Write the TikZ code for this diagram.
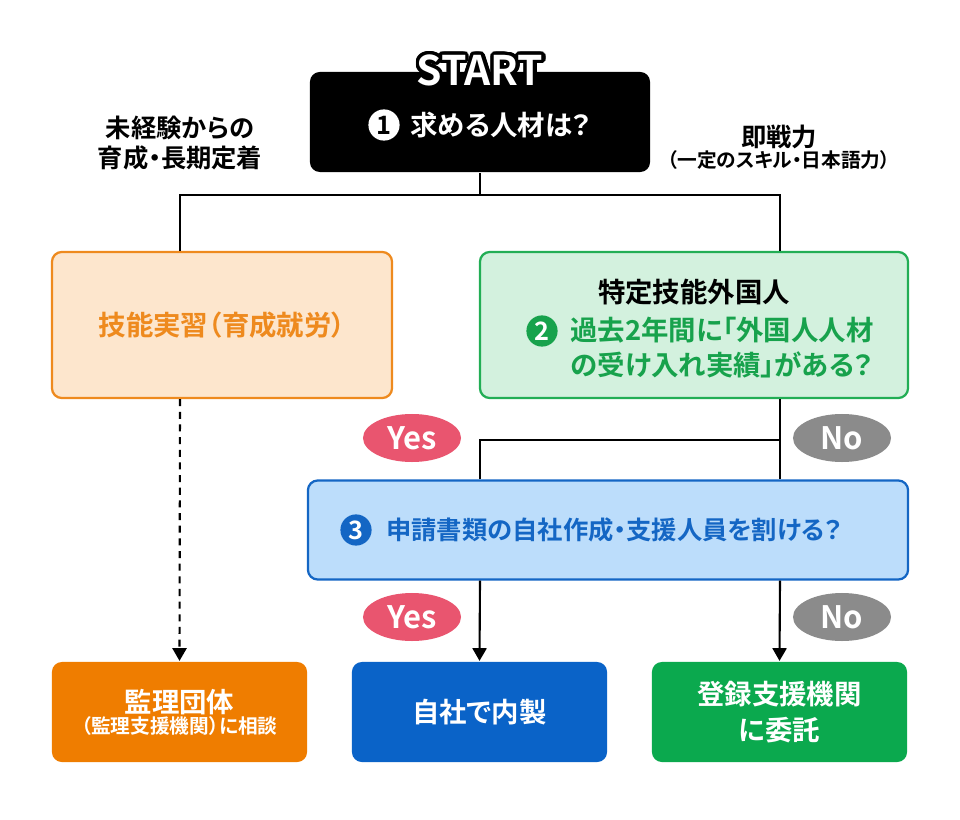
\documentclass[tikz,border=0pt]{standalone}
\usepackage{fontspec}
\setmainfont{Noto Sans CJK JP}[BoldFont={Noto Sans CJK JP Bold}, RawFeature={+palt}]
\usepackage{contour}
\usetikzlibrary{shapes.geometric, arrows.meta, positioning}

\definecolor{trainline}{HTML}{EE8A1E}
\definecolor{trainfill}{HTML}{FDE6CD}
\definecolor{sswline}{HTML}{22AE55}
\definecolor{sswfill}{HTML}{D3F1DE}
\definecolor{sswtext}{HTML}{17A24C}
\definecolor{selfline}{HTML}{1466C4}
\definecolor{selffill}{HTML}{BCDDFB}
\definecolor{resorange}{HTML}{EF7D00}
\definecolor{resblue}{HTML}{0A63C8}
\definecolor{resgreen}{HTML}{0BA94E}
\definecolor{yespink}{HTML}{E9556F}
\definecolor{nogray}{HTML}{8B8B8B}

\newcommand{\fmain}{\fontsize{19.5}{25}\selectfont\bfseries}
\newcommand{\flab}{\fontsize{18}{21}\selectfont\bfseries}
\newcommand{\fsmall}{\fontsize{14}{21}\selectfont\bfseries}
\newcommand{\fself}{\fontsize{18}{21}\selectfont\bfseries}
\newcommand{\ftag}{\fontsize{22}{22}\selectfont\bfseries}
\newcommand{\fstart}{\fontsize{29}{29}\selectfont\bfseries}
\contourlength{2.4pt}
\contournumber{32}

\tikzstyle{base} = [rectangle, rounded corners=7pt, line width=1.6pt, inner sep=0pt]
\tikzstyle{qblack} = [base, fill=black, minimum width=8.5cm, minimum height=2.5cm]
\tikzstyle{train} = [base, draw=trainline, fill=trainfill, text=trainline, minimum width=8.5cm, minimum height=3.65cm]
\tikzstyle{ssw} = [base, draw=sswline, fill=sswfill, minimum width=10.7cm, minimum height=3.65cm]
\tikzstyle{self} = [base, draw=selfline, fill=selffill, minimum width=15cm, minimum height=2.475cm]
\tikzstyle{result} = [base, text=white, align=center, minimum width=6.375cm, minimum height=2.5cm]
\tikzstyle{yesTag} = [ellipse, fill=yespink, text=white, inner sep=0pt, minimum width=2.45cm, minimum height=1.2cm, font=\ftag]
\tikzstyle{noTag} = [ellipse, fill=nogray, text=white, inner sep=0pt, minimum width=2.45cm, minimum height=1.2cm, font=\ftag]
\tikzstyle{num} = [circle, inner sep=0pt, minimum size=0.78cm, font=\fself]
\tikzstyle{link} = [line width=1.5pt]
\tikzstyle{arrow} = [link, -{Triangle[width=10pt,length=9pt]}]

\begin{document}
\begin{tikzpicture}[x=0.025cm, y=-0.025cm]
\useasboundingbox (0,0) rectangle (960,820);

\node (q1) [qblack] at (480,122) {};
\node (start) at (480,72) {\fstart\contour{black}{\textcolor{white}{START}}};
\node (n1) [num, fill=white, text=black] at (384,125) {1};
\node (t1) [anchor=west, inner sep=0pt, text=white, font=\fmain] at (410,125) {求める人材は？};

\node (lab1) [align=center, font=\flab] at (180,143) {未経験からの\\育成・長期定着};
\node (lab2) [align=center] at (779,147) {{\flab 即戦力}\\{\fsmall （一定のスキル・日本語力）}};

\node (train) [train] at (222,325) {\fmain 技能実習（育成就労）};
\node (ssw) [ssw] at (694,325) {};
\node (sswT) [font=\fmain] at (694,292) {特定技能外国人};
\node (n2) [num, fill=sswtext, text=white] at (542,331) {2};
\node (q2) [anchor=west, inner sep=0pt, align=left, text=sswtext, font=\fmain] at (570,348) {過去2年間に「外国人人材\\の受け入れ実績」がある？};

\node (self) [self] at (608,530) {};
\node (n3) [num, fill=selfline, text=white] at (356,530) {3};
\node (q3) [anchor=west, inner sep=0pt, text=selfline, font=\fself] at (386,530) {申請書類の自社作成・支援人員を割ける？};

\node (union) [result, fill=resorange] at (179.5,712) {{\fmain 監理団体}\\{\fsmall （監理支援機関）に相談}};
\node (inhouse) [result, fill=resblue] at (479.5,712) {\fmain 自社で内製};
\node (agency) [result, fill=resgreen, font=\fmain] at (779.5,712) {登録支援機関\\に委託};

\node (yes1) [yesTag] at (412,438) {Yes};
\node (no1) [noTag] at (842,438) {No};
\node (yes2) [yesTag] at (412,617) {Yes};
\node (no2) [noTag] at (842,617) {No};

\coordinate (laneL) at (180,195);
\coordinate (laneR) at (780,195);
\coordinate (laneM) at (480,440);
\draw [link] (q1.south) -- (q1.south |- laneL);
\draw [link] (train.north -| laneL) -- (laneL) -- (laneR) -- (ssw.north -| laneR);
\draw [link] (ssw.south -| laneR) -- (self.north -| laneR);
\draw [link] (self.north -| laneM) -- (laneM) -- (laneM -| laneR);
\draw [arrow] (self.south -| laneM) -- (inhouse.north);
\draw [arrow] (self.south -| laneR) -- (agency.north);
\draw [arrow, dash pattern=on 5pt off 4pt] (train.south -| laneL) -- (union.north);

\end{tikzpicture}
\end{document}
